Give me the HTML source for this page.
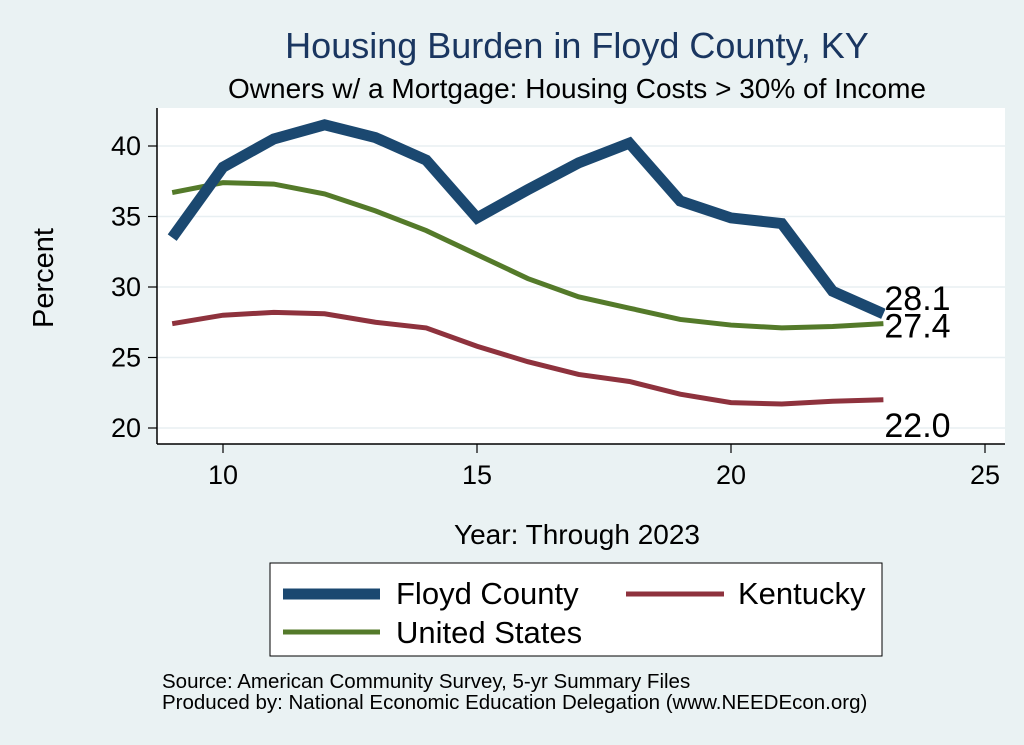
<!DOCTYPE html>
<html><head><meta charset="utf-8"><style>
body{margin:0;background:#eaf2f3;}
svg{display:block;font-family:"Liberation Sans",Arial,sans-serif;}
</style></head><body>
<svg id="chart" width="1024" height="745" viewBox="0 0 1024 745">
<rect x="0" y="0" width="1024" height="745" fill="#eaf2f3"/>
<text x="577" y="58" font-size="36" fill="#1a3660" text-anchor="middle">Housing Burden in Floyd County, KY</text>
<text x="577" y="98" font-size="28" fill="#000" text-anchor="middle">Owners w/ a Mortgage: Housing Costs &gt; 30% of Income</text>
<rect x="157" y="108" width="848" height="336" fill="#fff"/>
<g id="grid"></g>
<g id="series"></g>
<line x1="157" y1="108" x2="157" y2="444" stroke="#000" stroke-width="1.5"/>
<line x1="157" y1="444" x2="1005" y2="444" stroke="#000" stroke-width="1.5"/>
<g id="ticks"></g>
<text x="53" y="278" font-size="29" text-anchor="middle" transform="rotate(-90 53 278)">Percent</text>
<text x="577" y="544" font-size="28" text-anchor="middle">Year: Through 2023</text>
<g>
<rect x="270" y="563" width="612" height="93" fill="#fff" stroke="#000" stroke-width="1"/>
<line x1="283" y1="594" x2="380" y2="594" stroke="#1b4870" stroke-width="11"/>
<text x="396" y="604" font-size="31">Floyd County</text>
<line x1="626" y1="594" x2="724" y2="594" stroke="#8e323d" stroke-width="5"/>
<text x="738" y="604" font-size="31">Kentucky</text>
<line x1="283" y1="632" x2="380" y2="632" stroke="#547a2a" stroke-width="5"/>
<text x="396" y="643" font-size="31">United States</text>
</g>
<text x="162" y="688" font-size="20.5">Source: American Community Survey, 5-yr Summary Files</text>
<text x="162" y="709" font-size="20.5">Produced by: National Economic Education Delegation (www.NEEDEcon.org)</text>
</svg>
<script>
const years=[9,10,11,12,13,14,15,16,17,18,19,20,21,22,23];
const floyd=[33.5,38.5,40.5,41.5,40.6,39.0,34.9,36.9,38.8,40.2,36.1,34.9,34.5,29.7,28.1];
const us=[36.7,37.4,37.3,36.6,35.4,34.0,32.3,30.6,29.3,28.5,27.7,27.3,27.1,27.2,27.4];
const ky=[27.4,28.0,28.2,28.1,27.5,27.1,25.8,24.7,23.8,23.3,22.4,21.8,21.7,21.9,22.0];
const xTicks=[10,15,20,25];
const yTicks=[20,25,30,35,40];
const NS='http://www.w3.org/2000/svg';
function xs(v){return 223+(v-10)*50.8;}
function ys(v){return 428-(v-20)*14.1;}
function mk(tag,attrs,parent){const e=document.createElementNS(NS,tag);for(const k in attrs)e.setAttribute(k,attrs[k]);parent.appendChild(e);return e;}
const grid=document.getElementById('grid'),ticks=document.getElementById('ticks'),ser=document.getElementById('series');
yTicks.forEach(t=>{
 const g=mk('line',{x1:157,x2:1005,y1:ys(t),y2:ys(t),stroke:'#e8eff2','stroke-width':1.5},grid);
 
 
 const tk=mk('line',{x1:148,x2:157,y1:ys(t),y2:ys(t),stroke:'#000','stroke-width':1.2},ticks);
 
 
 const tx=mk('text',{x:141,y:ys(t)+9,'font-size':27,'text-anchor':'end'},ticks);
 tx.textContent=t;
 
 
});
xTicks.forEach(t=>{
 const tk=mk('line',{x1:xs(t),x2:xs(t),y1:444,y2:453,stroke:'#000','stroke-width':1.2},ticks);
 
 
 const tx=mk('text',{x:xs(t),y:484,'font-size':27,'text-anchor':'middle'},ticks);
 tx.textContent=t;
 
 
});
function line(vals,color,w,name){
 const p=mk('polyline',{points:vals.map((v,i)=>xs(years[i])+','+ys(v)).join(' '),fill:'none',stroke:color,'stroke-width':w,'stroke-linejoin':'miter'},ser);
 
 
}
line(ky,'#8e323d',5,'kentucky-line');
line(us,'#547a2a',5,'us-line');
line(floyd,'#1b4870',11,'floyd-line');
function lab(vals,dy,name){
 const v=vals[vals.length-1];
 const t=mk('text',{x:xs(years[years.length-1])+1,y:ys(v)+dy,'font-size':34},ser);
 t.textContent=v.toFixed(1);
 
 
}
lab(floyd,-4,'floyd-end-label');
lab(us,14,'us-end-label');
lab(ky,37,'kentucky-end-label');
</script>
</body></html>
